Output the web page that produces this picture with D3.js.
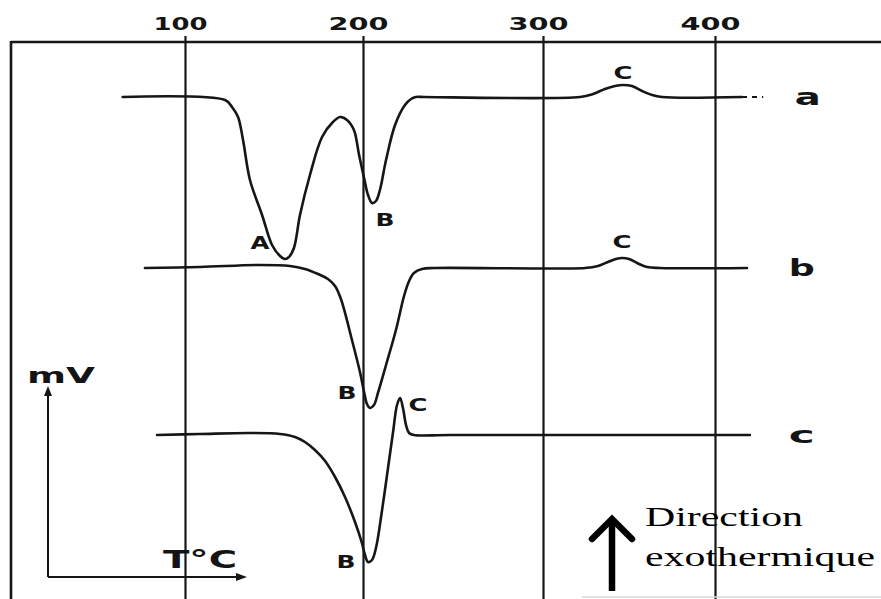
<!DOCTYPE html>
<html>
<head>
<meta charset="utf-8">
<script src="https://cdn.jsdelivr.net/npm/d3@7/dist/d3.min.js"></script>
<style>
  html, body { margin: 0; padding: 0; background: #fff; }
  svg { display: block; }
  .lbl { font-family: "DejaVu Sans", sans-serif; font-weight: 700; fill: #141414; }
</style>
</head>
<body>
<svg id="dta" width="881" height="599"></svg>
<script>
// Temperature axis ticks (°C)
const tempTicks = [100, 200, 300, 400];

// Vertical offset of each trace (signal units)
const traceNames = ["a", "b", "c"];
const traceOffsets = [98.6, 64.4, 31];

// Trace a : temperature (°C) and signal deflection
const traceA_T = [65, 122.5, 126.4, 129.8, 132.6, 136.5, 143.3, 148.9, 153.4, 156.2, 158.4, 161.2, 164.6, 170.2, 177.0, 183.1, 187.1, 191.0, 194.9, 197.8, 200.6, 202.8, 205.0, 207.2, 209.4, 212.8, 217.8, 223.3, 226.7, 229.4, 233.9, 321.5, 329.1, 336.0, 341.9, 346.5, 351.7, 357.6, 363.4, 369.2, 415.7];
const traceA_v = [0, -0.6, -2, -4, -8.6, -16.6, -23.6, -29.6, -31.8, -32.4, -32, -30.2, -23.6, -15.6, -8, -5, -4, -4.6, -6.6, -11.6, -16.2, -19.6, -21.2, -20.8, -18.6, -12.6, -5.6, -1.6, -0.4, 0, 0, 0, 0.6, 1.6, 2.2, 2.4, 2.2, 1.2, 0.4, 0, 0];
// Dotted continuation of trace a
const traceA_tailT = [415.7, 428];

// Trace b
const traceB_T = [77.5, 108.4, 142.1, 159.0, 167.4, 174.7, 180.3, 184.3, 187.6, 193.8, 198.3, 200.6, 202.2, 203.9, 206.1, 208.3, 212.8, 218.3, 222.8, 225.6, 228.3, 232.8, 240.0, 324.4, 332.0, 337.8, 342.4, 345.9, 350.0, 354.7, 360.5, 368.0, 418.6];
const traceB_v = [0, 0.2, 0.6, 0.4, -0.2, -1.2, -2.2, -3.6, -6.2, -14.4, -20.8, -24.8, -27.2, -28, -27.4, -25, -19.4, -12.4, -5.6, -2.6, -1, -0.2, 0, 0, 0.4, 1.2, 1.8, 2, 1.8, 1, 0.2, 0, 0];

// Trace c
const traceC_T = [84.3, 108.4, 136.5, 153.4, 161.8, 167.4, 173.0, 178.7, 184.3, 189.9, 195.5, 199.4, 201.1, 202.8, 205.0, 207.2, 210.6, 213.9, 216.7, 218.9, 220.6, 222.2, 223.9, 225.6, 228.3, 248.3, 420.3];
const traceC_v = [0, 0.2, 0.4, 0.2, -0.4, -1.4, -3, -5.2, -8.4, -12.4, -17.4, -21.6, -24, -25.4, -25, -22.6, -15, -6.6, 0.6, 6, 7.4, 5.4, 2, 0.4, 0, 0, 0];

// Peak labels: trace index, letter, temperature, deflection
const peakTrace = [0, 0, 0, 1, 1, 2, 2];
const peakText  = ["A", "B", "C", "B", "C", "C", "B"];
const peakT     = [142.1, 212.2, 346.5, 191.0, 345.9, 230.6, 190.4];
const peakV     = [-29.2, -24.6, 4.8, -25, 5.2, 6, -25.4];

// Trace letter position (°C)
const traceLabelT = [454, 450.5, 450.5];

const svg = d3.select("#dta");
const ink = "#161616";

const x = d3.scaleLinear().domain(tempTicks).range([185, 363, 543, 715]);
const y = d3.scaleLinear().domain([0, 110]).range([590, 40]);

const frameTop = 42, frameLeft = 11, W = 881, H = 599;

// Frame: top rule and left edge
svg.append("line").attr("x1", frameLeft).attr("x2", W).attr("y1", frameTop).attr("y2", frameTop)
  .attr("stroke", ink).attr("stroke-width", 2.4);
svg.append("line").attr("x1", frameLeft).attr("x2", frameLeft).attr("y1", frameTop - 1).attr("y2", H)
  .attr("stroke", ink).attr("stroke-width", 2.6);

// Temperature axis with full-height grid lines
const axis = svg.append("g").attr("transform", `translate(0,${frameTop})`)
  .call(d3.axisTop(x).tickValues(tempTicks).tickSizeInner(-(H - frameTop)).tickSizeOuter(0).tickPadding(12));
axis.select(".domain").remove();
axis.selectAll(".tick line").attr("y1", -6).attr("stroke", ink).attr("stroke-width", 2.2);
axis.selectAll(".tick text")
  .attr("class", "lbl")
  .attr("dx", -5)
  .attr("font-size", 18)
  .attr("textLength", d => d === 100 ? 54 : 60)
  .attr("lengthAdjust", "spacingAndGlyphs")
  .attr("fill", ink);

// Traces
const line = d3.line().curve(d3.curveCatmullRom.alpha(0.5));
const traces = [
  [traceA_T, traceA_v],
  [traceB_T, traceB_v],
  [traceC_T, traceC_v]
];
traces.forEach(([T, V], i) => {
  const pts = T.map((t, j) => [x(t), y(traceOffsets[i] + V[j])]);
  svg.append("path").attr("d", line(pts))
    .attr("fill", "none").attr("stroke", ink).attr("stroke-width", 2.6)
    .attr("stroke-linejoin", "round").attr("stroke-linecap", "round");
});
svg.append("path")
  .attr("d", d3.line()(traceA_tailT.map(t => [x(t), y(traceOffsets[0])])))
  .attr("stroke", ink).attr("stroke-width", 2.2).attr("stroke-dasharray", "5,5");

// Peak letters
peakText.forEach((s, i) => {
  svg.append("text").attr("class", "lbl")
    .attr("x", x(peakT[i])).attr("y", y(traceOffsets[peakTrace[i]] + peakV[i]))
    .attr("text-anchor", "middle").attr("dominant-baseline", "central")
    .attr("font-size", 17).attr("textLength", 19).attr("lengthAdjust", "spacingAndGlyphs")
    .text(s);
});

// Trace letters
traceNames.forEach((s, i) => {
  svg.append("text").attr("class", "lbl")
    .attr("x", x(traceLabelT[i])).attr("y", y(traceOffsets[i]))
    .attr("text-anchor", "middle").attr("dominant-baseline", "central")
    .attr("font-size", 23).attr("textLength", 26).attr("lengthAdjust", "spacingAndGlyphs")
    .text(s);
});

// Small mV / T°C reference axes
const ax0 = 48, ay0 = 577;
svg.append("line").attr("x1", ax0).attr("x2", ax0).attr("y1", ay0).attr("y2", 394)
  .attr("stroke", ink).attr("stroke-width", 2);
svg.append("path").attr("d", `M${ax0 - 4},${396} L${ax0},${386} L${ax0 + 4},${396} Z`).attr("fill", ink);
svg.append("line").attr("x1", ax0).attr("x2", 240).attr("y1", ay0).attr("y2", ay0)
  .attr("stroke", ink).attr("stroke-width", 2);
svg.append("path").attr("d", `M${236},${ay0 - 4} L${247},${ay0} L${236},${ay0 + 4} Z`).attr("fill", ink);
svg.append("text").attr("class", "lbl").attr("x", 27).attr("y", 383)
  .attr("font-size", 21).attr("textLength", 68).attr("lengthAdjust", "spacingAndGlyphs").text("mV");
svg.append("text").attr("class", "lbl").attr("x", 163).attr("y", 568)
  .attr("font-size", 24).attr("textLength", 74).attr("lengthAdjust", "spacingAndGlyphs").text("T°C");

// Exothermic direction note
svg.append("line").attr("x1", 612).attr("x2", 612).attr("y1", 591).attr("y2", 521)
  .attr("stroke", "#000").attr("stroke-width", 6.5);
svg.append("path").attr("d", "M592,539 L612,519 L632,539")
  .attr("fill", "none").attr("stroke", "#000").attr("stroke-width", 6.5)
  .attr("stroke-linecap", "round").attr("stroke-linejoin", "miter");
svg.append("text").attr("x", 645).attr("y", 526)
  .attr("font-family", "Liberation Serif, Times New Roman, serif").attr("font-size", 27)
  .attr("textLength", 158).attr("lengthAdjust", "spacingAndGlyphs").attr("fill", "#000")
  .text("Direction");
svg.append("text").attr("x", 645).attr("y", 566)
  .attr("font-family", "Liberation Serif, Times New Roman, serif").attr("font-size", 27)
  .attr("textLength", 230).attr("lengthAdjust", "spacingAndGlyphs").attr("fill", "#000")
  .text("exothermique");
svg.append("line").attr("x1", 582).attr("x2", W).attr("y1", 597).attr("y2", 597)
  .attr("stroke", "#d8d8d8").attr("stroke-width", 1.5);
</script>
</body>
</html>
